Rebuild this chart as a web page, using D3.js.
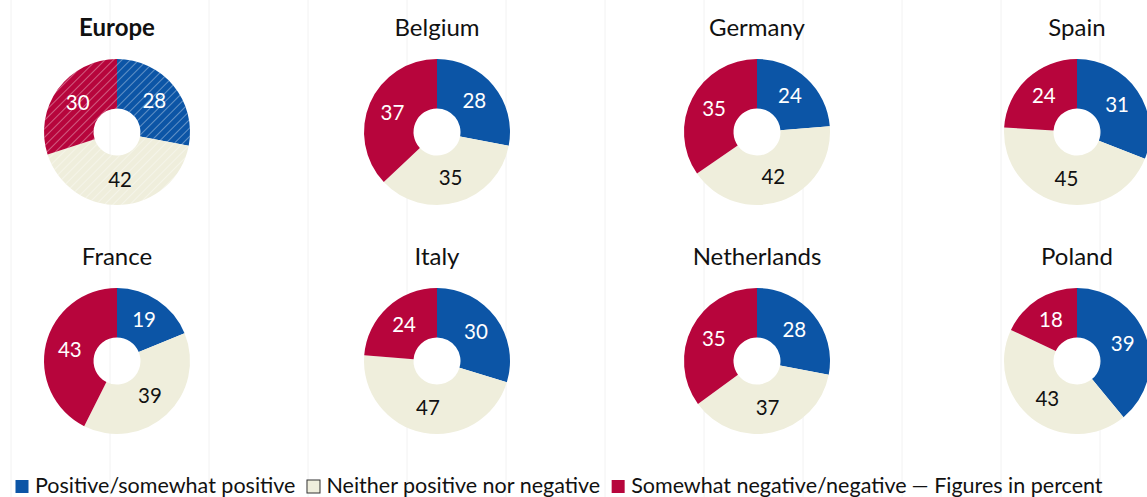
<!DOCTYPE html>
<html>
<head>
<meta charset="utf-8">
<script src="https://cdn.jsdelivr.net/npm/d3@7"></script>
<style>
  html, body { margin: 0; padding: 0; background: #fff; }
  svg { display: block; font-family: Lato, "Open Sans", sans-serif; }
</style>
</head>
<body>
<svg id="chart" width="1147" height="497"></svg>
<script>
// Survey answers per country, in percent
const regions   = ["Europe", "Belgium", "Germany", "Spain", "France", "Italy", "Netherlands", "Poland"];
const positive  = [28, 28, 24, 31, 19, 30, 28, 39];
const neither   = [42, 35, 42, 45, 39, 47, 37, 43];
const negative  = [30, 37, 35, 24, 43, 24, 35, 18];
const answers   = ["Positive/somewhat positive", "Neither positive nor negative", "Somewhat negative/negative"];
const note      = "Figures in percent";

const W = 1147, H = 497;
const svg = d3.select("#chart");

const color = d3.scaleOrdinal()
  .domain(answers)
  .range(["#0c55a6", "#efeedc", "#b7053c"]);
const labelColor = d3.scaleOrdinal()
  .domain(answers)
  .range(["#ffffff", "#111111", "#ffffff"]);

// Hatching used for the aggregate panel
const defs = svg.append("defs");
const hatch = defs.append("pattern")
  .attr("id", "hatch")
  .attr("patternUnits", "userSpaceOnUse")
  .attr("width", 6).attr("height", 6)
  .attr("patternTransform", "rotate(45)");
hatch.append("line")
  .attr("x1", 0).attr("y1", 0).attr("x2", 0).attr("y2", 6)
  .attr("stroke", "#ffffff").attr("stroke-opacity", 0.65).attr("stroke-width", 1.1);

// Faint vertical background grid
const gridX = d3.scaleLinear().domain([0, 11]).range([11, 1100]);
svg.append("g")
  .selectAll("line")
  .data(d3.range(0, 12))
  .join("line")
  .attr("x1", d => gridX(d)).attr("x2", d => gridX(d))
  .attr("y1", 0).attr("y2", H)
  .attr("stroke", "#f2f2f2").attr("stroke-width", 1);

// Panel placement
const col = d3.scalePoint().domain([0, 1, 2, 3]).range([117, 1077]);
const row = d3.scalePoint().domain([0, 1]).range([132, 361]);

const outerR = 73, innerR = 23.5, labelR = 48.5;
const pie = d3.pie().sort(null).value(d => d.value);
const arc = d3.arc().innerRadius(innerR).outerRadius(outerR);
const labelArc = d3.arc().innerRadius(labelR).outerRadius(labelR);

regions.forEach((name, i) => {
  const cx = col(i % 4), cy = row(Math.floor(i / 4));
  const data = [
    { key: answers[0], value: positive[i] },
    { key: answers[1], value: neither[i] },
    { key: answers[2], value: negative[i] }
  ];
  const g = svg.append("g").attr("transform", `translate(${cx},${cy})`);

  g.append("text")
    .attr("x", 0).attr("y", -96.5)
    .attr("text-anchor", "middle")
    .attr("font-size", 24)
    .attr("font-weight", i === 0 ? 700 : 400)
    .attr("fill", "#111")
    .text(name);

  const slices = g.selectAll("g.slice").data(pie(data)).join("g").attr("class", "slice");
  slices.append("path")
    .attr("d", arc)
    .attr("fill", d => color(d.data.key));
  if (i === 0) {
    slices.append("path")
      .attr("d", arc)
      .attr("fill", "url(#hatch)");
  }
  slices.append("text")
    .attr("transform", d => `translate(${labelArc.centroid(d)})`)
    .attr("text-anchor", "middle")
    .attr("dy", "0.33em")
    .attr("font-size", 20.5)
    .attr("fill", d => labelColor(d.data.key))
    .text(d => d.data.value);
});

// Legend
const legend = svg.append("g").attr("transform", "translate(15,492.5)");
let x = 0;
answers.forEach((a, k) => {
  const item = legend.append("g").attr("transform", `translate(${x},0)`);
  item.append("rect")
    .attr("x", 0.5).attr("y", -12.5)
    .attr("width", 13).attr("height", 13)
    .attr("fill", color(a))
    .attr("stroke", k === 1 ? "#333" : "none")
    .attr("stroke-width", 1);
  const t = item.append("text")
    .attr("x", 20).attr("y", 0)
    .attr("font-size", 21.5)
    .attr("fill", "#111")
    .text(a);
  x += 20 + t.node().getComputedTextLength() + 11;
});
legend.append("text")
  .attr("x", x - 6).attr("y", 0)
  .attr("font-size", 21.5)
  .attr("fill", "#111")
  .text("\u2014 " + note);
</script>
</body>
</html>
